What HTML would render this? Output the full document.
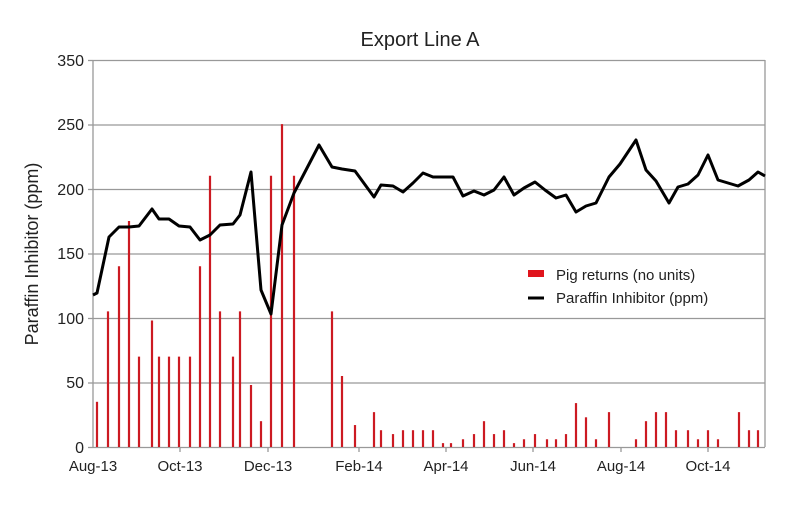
<!DOCTYPE html>
<html><head><meta charset="utf-8"><style>
body{margin:0;background:#fff;}
svg text{font-family:"Liberation Sans",Arial,sans-serif;fill:#222;}
</style></head><body>
<svg width="800" height="500" viewBox="0 0 800 500" xmlns="http://www.w3.org/2000/svg">
<rect width="800" height="500" fill="#fff"/>
<text x="420" y="46" font-size="20" text-anchor="middle">Export Line A</text>
<g stroke="#999" stroke-width="1.3">
<line x1="93" y1="60.5" x2="765" y2="60.5"/>
<line x1="93" y1="125" x2="765" y2="125"/>
<line x1="93" y1="189.5" x2="765" y2="189.5"/>
<line x1="93" y1="254" x2="765" y2="254"/>
<line x1="93" y1="318.5" x2="765" y2="318.5"/>
<line x1="93" y1="383" x2="765" y2="383"/>
<line x1="765" y1="60" x2="765" y2="447"/>
<line x1="93" y1="60" x2="93" y2="447"/>
<line x1="93" y1="447.5" x2="765" y2="447.5"/>
<line x1="88" y1="60.5" x2="93" y2="60.5"/>
<line x1="88" y1="125" x2="93" y2="125"/>
<line x1="88" y1="189.5" x2="93" y2="189.5"/>
<line x1="88" y1="254" x2="93" y2="254"/>
<line x1="88" y1="318.5" x2="93" y2="318.5"/>
<line x1="88" y1="383" x2="93" y2="383"/>
<line x1="88" y1="447.5" x2="93" y2="447.5"/>
<line x1="180" y1="447" x2="180" y2="452"/>
<line x1="268" y1="447" x2="268" y2="452"/>
<line x1="359" y1="447" x2="359" y2="452"/>
<line x1="446" y1="447" x2="446" y2="452"/>
<line x1="533" y1="447" x2="533" y2="452"/>
<line x1="621" y1="447" x2="621" y2="452"/>
<line x1="708" y1="447" x2="708" y2="452"/>
</g>
<g font-size="16" text-anchor="end">
<text x="84" y="66">350</text><text x="84" y="130">250</text>
<text x="84" y="195">200</text><text x="84" y="259">150</text><text x="84" y="324">100</text>
<text x="84" y="388">50</text><text x="84" y="453">0</text>
</g>
<g font-size="15" text-anchor="middle">
<text x="93" y="471">Aug-13</text><text x="180" y="471">Oct-13</text><text x="268" y="471">Dec-13</text>
<text x="359" y="471">Feb-14</text><text x="446" y="471">Apr-14</text><text x="533" y="471">Jun-14</text>
<text x="621" y="471">Aug-14</text><text x="708" y="471">Oct-14</text>
</g>
<text transform="translate(38,254) rotate(-90)" font-size="18" text-anchor="middle">Paraffin Inhibitor (ppm)</text>
<g id="bars" stroke="#cc1a22" stroke-width="2.2"></g>
<polyline fill="none" stroke="#000" stroke-width="3" stroke-linejoin="round" points="93,295 97,293 109,237 119,227 129,227 139,226 152,209 159,219 169,219 179,226 190,227 200,240 210,235 220,225 233,224 240,215 251,172 261,290 271,314 282,225 294,193 319,145 332,167 342,169 355,171 374,197 381,185 393,186 403,192 413,183 423,173 433,177 443,177 453,177 463,196 474,191 484,195 494,190 504,177 514,195 524,188 535,182 545,190 556,198 566,195 576,212 586,206 596,203 609,177 620,164 636,140 646,170 656,181 669,203 678,187 688,184 698,175 708,155 718,180 738,186 749,180 758,172 765,176"/>
<rect x="528" y="270" width="16" height="7" fill="#e0141c"/>
<line x1="528" y1="298" x2="544" y2="298" stroke="#000" stroke-width="3"/>
<text x="556" y="280" font-size="15">Pig returns (no units)</text>
<text x="556" y="303" font-size="15">Paraffin Inhibitor (ppm)</text>
</svg>
<script>
var d=[[97,35],[108,105],[119,140],[129,175],[139,70],[152,98],[159,70],[169,70],[179,70],[190,70],[200,140],[210,210],[220,105],[233,70],[240,105],[251,48],[261,20],[271,210],[282,250],[294,210],[332,105],[342,55],[355,17],[374,27],[381,13],[393,10],[403,13],[413,13],[423,13],[433,13],[443,3],[451,3],[463,6],[474,10],[484,20],[494,10],[504,13],[514,3],[524,6],[535,10],[547,6],[556,6],[566,10],[576,34],[586,23],[596,6],[609,27],[636,6],[646,20],[656,27],[666,27],[676,13],[688,13],[698,6],[708,13],[718,6],[739,27],[749,13],[758,13]];
var g=document.getElementById('bars'),ns='http://www.w3.org/2000/svg';
d.forEach(function(p){var l=document.createElementNS(ns,'line');l.setAttribute('x1',p[0]);l.setAttribute('x2',p[0]);l.setAttribute('y1',447);l.setAttribute('y2',447-p[1]*1.2914);g.appendChild(l);});
</script>
</body></html>
